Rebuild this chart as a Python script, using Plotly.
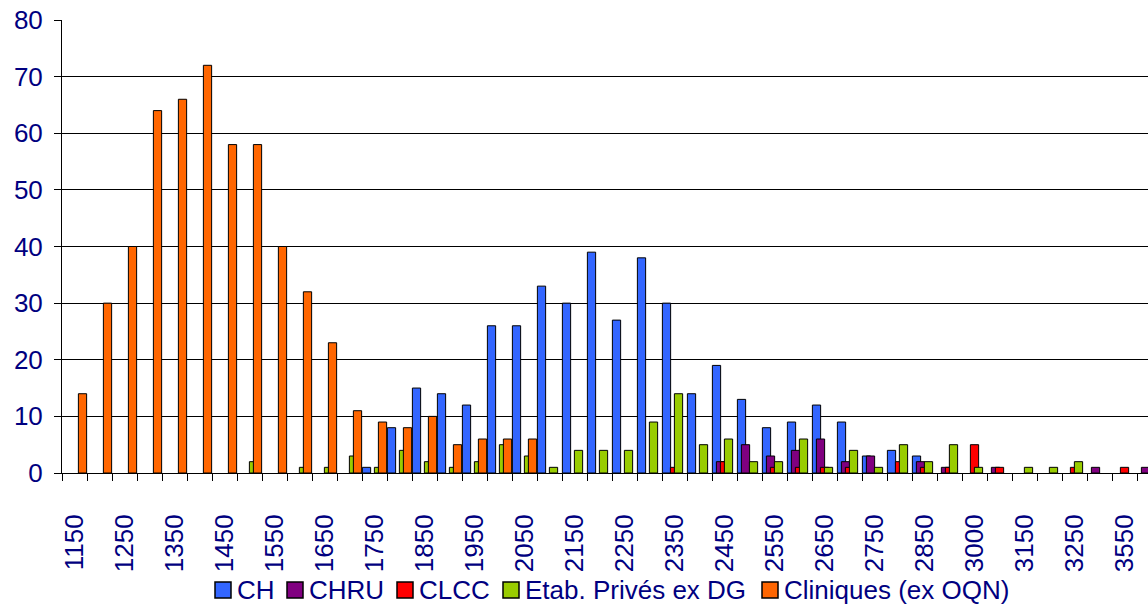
import plotly.graph_objects as go

# Class bins (every other bin is labelled on the axis)
categories = [
    "1150", "1200", "1250", "1300", "1350", "1400", "1450", "1500", "1550", "1600",
    "1650", "1700", "1750", "1800", "1850", "1900", "1950", "2000", "2050", "2100",
    "2150", "2200", "2250", "2300", "2350", "2400", "2450", "2500", "2550", "2600",
    "2650", "2700", "2750", "2800", "2850", "2900", "3000", "3050", "3150", "3200",
    "3250", "3350", "3550", "3700",
]

ch = [0, 0, 0, 0, 0, 0, 0, 0, 0, 0,
      0, 0, 1, 8, 15, 14, 12, 26, 26, 33,
      30, 39, 27, 38, 30, 14, 19, 13, 8, 9,
      12, 9, 3, 4, 3, 0, 0, 0, 0, 0,
      0, 0, 0, 0]
chru = [0, 0, 0, 0, 0, 0, 0, 0, 0, 0,
        0, 0, 0, 0, 0, 0, 0, 0, 0, 0,
        0, 0, 0, 0, 0, 0, 2, 5, 3, 4,
        6, 2, 3, 0, 2, 1, 0, 1, 0, 0,
        0, 1, 0, 1]
clcc = [0, 0, 0, 0, 0, 0, 0, 0, 0, 0,
        0, 0, 0, 0, 0, 0, 0, 0, 0, 0,
        0, 0, 0, 0, 1, 0, 2, 0, 1, 1,
        1, 1, 0, 2, 1, 1, 5, 1, 0, 0,
        1, 0, 1, 0]
etab_prives = [0, 0, 0, 0, 0, 0, 0, 2, 0, 1,
               1, 3, 1, 4, 2, 1, 2, 5, 3, 1,
               4, 4, 4, 9, 14, 5, 6, 2, 2, 6,
               1, 4, 1, 5, 2, 5, 1, 0, 1, 1,
               2, 0, 0, 0]
cliniques = [14, 30, 40, 64, 66, 72, 58, 58, 40, 32,
             23, 11, 9, 8, 10, 5, 6, 6, 6, 0,
             0, 0, 0, 0, 0, 0, 0, 0, 0, 0,
             0, 0, 0, 0, 0, 0, 0, 0, 0, 0,
             0, 0, 0, 0]

series_names = ["CH", "CHRU", "CLCC", "Etab. Privés ex DG", "Cliniques (ex OQN)"]
series_values = [ch, chru, clcc, etab_prives, cliniques]
series_colors = ["#3366FF", "#800080", "#FF0000", "#99CC00", "#FF6600"]

# Figure geometry (pixels)
W, H = 1148, 604
ML, MR, MT, MB = 62, 0, 20, 131
PW, PH = W - ML - MR, H - MT - MB

positions = list(range(len(categories)))
bar_width = 0.33
step = 0.16
start = -0.485

TEXT = "#000080"
FONT = "Arial, Liberation Sans, sans-serif"
SIZE = 26

fig = go.Figure()
for k, (name, values, color) in enumerate(zip(series_names, series_values, series_colors)):
    fig.add_trace(go.Bar(
        name=name,
        x=positions,
        y=[v if v else None for v in values],
        width=bar_width,
        offset=start + k * step,
        marker=dict(color=color, line=dict(color="#000000", width=1)),
        showlegend=False,
    ))


def px_x(p):
    return (p - ML) / PW


def px_y(p):
    return (H - MB - p) / PH


# Legend row below the axis: swatch + label for each series
legend_left = [215, 287, 397, 503, 762]
legend_cy = 590
sw = 16
shapes = []
annotations = []
for left, name, color in zip(legend_left, series_names, series_colors):
    shapes.append(dict(
        type="rect", xref="paper", yref="paper",
        x0=px_x(left), x1=px_x(left + sw),
        y0=px_y(legend_cy + sw / 2), y1=px_y(legend_cy - sw / 2),
        fillcolor=color, line=dict(color="#000000", width=1.5),
        layer="above",
    ))
    annotations.append(dict(
        xref="paper", yref="paper",
        x=px_x(left + sw + 4), y=px_y(legend_cy),
        xanchor="left", yanchor="middle",
        text=name, showarrow=False,
        font=dict(family=FONT, size=SIZE, color=TEXT),
    ))

fig.update_layout(
    width=W,
    height=H,
    barmode="overlay",
    paper_bgcolor="#FFFFFF",
    plot_bgcolor="#FFFFFF",
    margin=dict(l=ML, r=MR, t=MT, b=MB, autoexpand=False),
    font=dict(family=FONT, size=SIZE, color=TEXT),
    showlegend=False,
    shapes=shapes,
    annotations=annotations,
)

fig.update_xaxes(
    type="linear",
    range=[-0.5, -0.5 + PW / 25.0],
    tickvals=positions[::2],
    ticktext=categories[::2],
    tickangle=-90,
    ticks="",
    ticklabelstandoff=30,
    showgrid=False,
    zeroline=False,
    showline=True,
    linecolor="#000000",
    linewidth=1,
    automargin=False,
    tickfont=dict(family=FONT, size=SIZE, color=TEXT),
    minor=dict(tick0=-0.5, dtick=1, ticks="outside", ticklen=7,
               tickcolor="#000000", tickwidth=1, showgrid=False),
)

fig.update_yaxes(
    range=[0, 80],
    dtick=10,
    ticks="outside",
    ticklen=7,
    tickcolor="#000000",
    ticklabelstandoff=6,
    showgrid=True,
    gridcolor="#000000",
    gridwidth=1,
    zeroline=False,
    showline=True,
    linecolor="#000000",
    linewidth=1,
    automargin=False,
    tickfont=dict(family=FONT, size=SIZE, color=TEXT),
)

fig.write_html("out.html")
